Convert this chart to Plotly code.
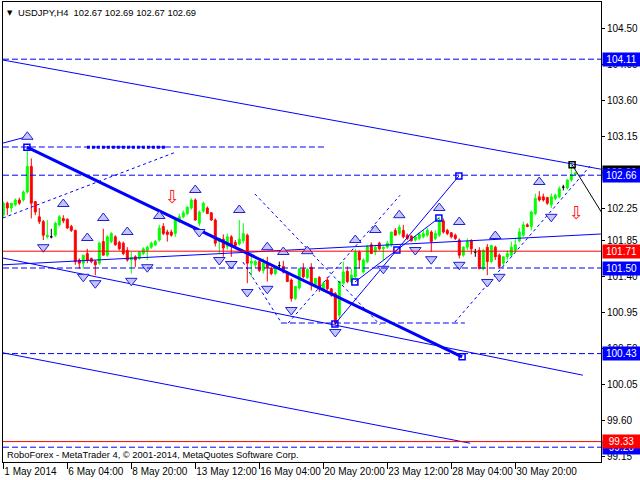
import plotly.graph_objects as go

# ---------------- data ----------------
opens = [102.16,102.31,102.25,102.29,102.35,102.35,102.45,102.77,102.33,102.14,
         102.08,101.89,101.89,101.91,102.04,102.12,102.11,102.02,101.97,101.60,
         101.56,101.68,101.62,101.58,101.56,101.83,101.66,101.83,101.89,101.82,
         101.81,101.72,101.60,101.64,101.62,101.68,101.72,101.76,101.79,101.85,
         102.02,101.95,101.95,101.93,102.08,102.14,102.18,102.25,102.35,102.06,
         102.21,102.25,102.19,102.10,101.83,101.86,101.77,101.89,101.82,101.80,
         101.84,101.91,101.56,101.54,101.58,101.47,101.55,101.50,101.43,101.53,
         101.52,101.45,101.35,101.12,101.25,101.49,101.38,101.51,101.29,101.38,
         101.23,101.35,101.24,101.18,100.91,101.31,101.46,101.33,101.39,101.70,
         101.45,101.58,101.79,101.70,101.81,101.74,101.76,101.79,101.97,101.93,
         101.97,101.91,101.90,101.85,101.87,101.89,101.91,101.95,101.87,101.91,
         102.09,101.97,101.94,101.91,101.85,101.66,101.76,101.84,101.70,101.72,
         101.49,101.76,101.58,101.76,101.66,101.56,101.64,101.66,101.72,101.84,
         101.91,102.04,102.02,102.18,102.39,102.39,102.38,102.29,102.37,102.39,
         102.51,102.50,102.60,102.67]
highs = [102.33,102.33,102.31,102.37,102.38,102.47,102.99,102.87,102.33,102.25,
         102.10,102.10,101.99,102.08,102.16,102.16,102.12,102.04,101.98,101.62,
         101.66,101.74,101.63,101.60,101.83,101.99,101.91,101.95,101.91,101.84,
         101.83,101.76,101.70,101.66,101.70,101.76,101.78,101.83,101.85,102.04,
         102.06,101.98,101.98,102.10,102.18,102.22,102.27,102.37,102.37,102.22,
         102.33,102.27,102.20,102.12,101.87,101.92,101.93,101.91,101.85,102.10,
         102.06,101.93,101.68,101.60,101.60,101.62,101.64,101.51,101.52,101.58,
         101.59,101.46,101.37,101.27,101.50,101.56,101.50,101.56,101.37,101.40,
         101.33,101.39,101.25,101.20,101.33,101.58,101.52,101.49,101.74,101.72,
         101.62,101.79,101.82,101.79,101.83,101.77,101.84,101.95,102.00,102.04,
         102.04,101.93,101.91,101.89,101.95,101.97,102.00,101.97,101.97,102.14,
         102.12,101.99,101.95,101.93,101.87,101.77,101.87,101.86,101.74,101.76,
         101.74,101.80,101.79,101.78,101.68,101.64,101.72,101.83,101.87,102.00,
         102.08,102.06,102.22,102.43,102.46,102.43,102.39,102.43,102.43,102.52,
         102.54,102.61,102.81,102.69]
lows = [102.14,102.16,102.20,102.27,102.29,102.33,102.43,102.12,102.16,102.05,
        101.85,101.87,101.87,101.89,102.02,102.06,101.99,101.95,101.54,101.49,
        101.49,101.56,101.56,101.41,101.54,101.66,101.64,101.81,101.78,101.72,
        101.66,101.58,101.43,101.51,101.60,101.66,101.60,101.74,101.77,101.83,
        101.91,101.83,101.89,101.89,102.06,102.12,102.16,102.23,102.09,102.02,
        102.19,102.18,102.09,101.77,101.68,101.64,101.73,101.64,101.76,101.78,
        101.81,101.31,101.39,101.50,101.45,101.43,101.33,101.41,101.41,101.49,
        101.43,101.33,101.08,101.10,101.23,101.37,101.36,101.22,101.27,101.20,
        101.21,101.22,101.14,100.79,100.87,101.29,101.31,101.31,101.37,101.49,
        101.43,101.56,101.68,101.66,101.72,101.60,101.74,101.76,101.91,101.91,
        101.87,101.85,101.83,101.83,101.85,101.87,101.89,101.70,101.85,101.89,
        101.93,101.91,101.87,101.85,101.62,101.64,101.72,101.67,101.64,101.49,
        101.47,101.41,101.56,101.60,101.50,101.52,101.60,101.64,101.70,101.82,
        101.89,102.01,101.97,102.16,102.33,102.33,102.29,102.25,102.35,102.37,
        102.47,102.48,102.58,102.66]
closes = [102.31,102.25,102.31,102.35,102.31,102.45,102.77,102.31,102.20,102.08,
          101.91,101.91,101.89,102.06,102.14,102.09,102.00,101.97,101.58,101.56,
          101.66,101.60,101.58,101.54,101.81,101.66,101.89,101.93,101.79,101.74,
          101.68,101.60,101.63,101.60,101.70,101.74,101.76,101.81,101.83,102.00,
          101.93,101.92,101.91,102.10,102.14,102.19,102.26,102.35,102.10,102.20,
          102.31,102.18,102.10,101.81,101.87,101.75,101.89,101.77,101.78,101.86,
          101.93,101.56,101.58,101.58,101.47,101.56,101.51,101.43,101.49,101.53,
          101.45,101.33,101.12,101.27,101.49,101.39,101.48,101.29,101.37,101.25,
          101.31,101.24,101.16,100.81,101.33,101.45,101.33,101.41,101.70,101.60,
          101.60,101.77,101.68,101.76,101.74,101.76,101.81,101.95,101.91,102.01,
          101.89,101.87,101.84,101.89,101.92,101.93,101.97,101.83,101.93,102.10,
          101.95,101.93,101.89,101.87,101.66,101.76,101.83,101.74,101.70,101.49,
          101.72,101.58,101.78,101.64,101.52,101.64,101.68,101.76,101.79,101.95,
          102.04,102.02,102.20,102.37,102.35,102.35,102.31,102.39,102.41,102.49,
          102.51,102.60,102.67,102.69]

x_tick_bars = [0, 16, 32, 48, 64, 80, 96, 112, 128]
x_tick_labels = ["1 May 2014", "6 May 04:00", "8 May 20:00", "13 May 12:00", "16 May 04:00",
                 "20 May 20:00", "23 May 12:00", "28 May 04:00", "30 May 20:00"]
y_tick_values = [104.50, 104.05, 103.60, 103.15, 102.70, 102.25, 101.85, 101.40,
                 100.95, 100.50, 100.05, 99.60, 99.15]

# horizontal levels
blue_levels = [104.11, 102.66, 101.50, 100.43, 99.26]
red_levels = [101.71, 99.33]
bid_price = 102.69

# trend lines: (bar0, price0, bar1, price1)
thin_lines = [(-0.1, 104.10, 149.4, 102.735),
              (-0.1, 100.44, 116.7, 99.31),
              (-0.1, 101.625, 144.9, 100.16),
              (-0.1, 101.54, 149.4, 101.925),
              (-0.2, 103.06, 5.85, 103.14),
              (82.9, 100.80, 113.9, 102.65),
              (87.9, 101.325, 108.9, 102.125)]
thick_line = (5.9, 103.01, 114.7, 100.39)
dotted_lines = [(-0.1, 102.125, 43.2, 102.95),
                (62.9, 102.425, 94.2, 100.79),
                (59.9, 101.575, 69.4, 100.825),
                (71.2, 100.81, 99.2, 102.41),
                (112.9, 100.825, 146.7, 102.775)]
dashed_segments = [(-0.1, 103.0125, 80.2, 103.0125),
                   (69.4, 100.8125, 115.4, 100.8125)]
thick_dotted = (20.9, 103.01, 40.9, 103.01)
black_line = (142.2, 102.79, 149.5, 102.20)
square_bars = [5.9, 114.7, 82.9, 87.9, 98.4, 108.9, 113.9]
square_prices = [103.01, 100.39, 100.80, 101.325, 101.725, 102.125, 102.65]
black_square = (142.2, 102.79)

up_bars = [6, 15, 21, 25, 31, 39, 48, 59, 66, 70, 76, 88, 93, 99, 109, 114, 123, 134]
up_prices = [103.14, 102.30, 101.875, 102.125, 101.95, 102.15, 102.475, 102.225, 101.76,
             101.70, 101.71, 101.85, 101.975, 102.16, 102.25, 102.075, 101.90, 102.575]
down_bars = [10, 20, 23, 32, 36, 49, 54, 57, 61, 66, 72, 83, 95, 103, 107, 114, 121, 124, 137]
down_prices = [101.76, 101.39, 101.31, 101.34, 101.51, 101.95, 101.60, 101.55, 101.20,
               101.24, 100.975, 100.70, 101.49, 101.725, 101.61, 101.54, 101.325, 101.39, 102.14]
red_arrow_bars = [42.4, 143.4]
red_arrow_prices = [102.39, 102.20]

title_text = "USDJPY,H4\u00a0\u00a0102.67 102.69 102.67 102.69"
footer_text = "RoboForex - MetaTrader 4, © 2001-2014, MetaQuotes Software Corp."

# ---------------- figure ----------------
FONT = "Liberation Sans, Arial, sans-serif"
BLUE = "#0000ff"
bars = list(range(len(opens)))
fig = go.Figure()

norm = [i for i in bars if opens[i] != closes[i]]
doji = [i for i in bars if opens[i] == closes[i]]
fig.add_trace(go.Candlestick(
    x=norm, open=[opens[i] for i in norm], high=[highs[i] for i in norm],
    low=[lows[i] for i in norm], close=[closes[i] for i in norm],
    increasing=dict(line=dict(color="#00ff00", width=1), fillcolor="#00ff00"),
    decreasing=dict(line=dict(color="#ff0000", width=1), fillcolor="#ff0000"),
    whiskerwidth=0, hoverinfo="skip"))
fig.add_trace(go.Candlestick(
    x=doji, open=[opens[i] for i in doji], high=[highs[i] for i in doji],
    low=[lows[i] for i in doji], close=[closes[i] for i in doji],
    increasing=dict(line=dict(color="#000000", width=1), fillcolor="#000000"),
    decreasing=dict(line=dict(color="#000000", width=1), fillcolor="#000000"),
    whiskerwidth=0, hoverinfo="skip"))

def seg(s, color=BLUE, width=1, dash="solid"):
    fig.add_trace(go.Scatter(x=[s[0], s[2]], y=[s[1], s[3]], mode="lines",
                             line=dict(color=color, width=width, dash=dash),
                             hoverinfo="skip"))

for s in thin_lines:
    seg(s)
for s in dotted_lines:
    seg(s, dash="3px,3px")
for s in dashed_segments:
    seg(s, dash="6px,3px")
seg(thick_dotted, width=3, dash="3px,2px")
seg(thick_line, width=3)
seg(black_line, color="#000000")

fig.add_trace(go.Scatter(x=square_bars, y=square_prices, mode="markers",
                         marker=dict(symbol="square-open", size=6, color=BLUE,
                                     line=dict(width=1.5)), hoverinfo="skip"))
fig.add_trace(go.Scatter(x=[black_square[0]], y=[black_square[1]], mode="markers",
                         marker=dict(symbol="square-open", size=6, color="#000000",
                                     line=dict(width=1.5)), hoverinfo="skip"))

fig.add_trace(go.Scatter(x=up_bars, y=up_prices, mode="markers",
                         marker=dict(symbol="triangle-up", size=10, color="#c4c4ff",
                                     line=dict(color="#2020d0", width=1)), hoverinfo="skip"))
fig.add_trace(go.Scatter(x=down_bars, y=down_prices, mode="markers",
                         marker=dict(symbol="triangle-down", size=10, color="#c4c4ff",
                                     line=dict(color="#2020d0", width=1)), hoverinfo="skip"))

shapes = []
for lv in blue_levels:
    shapes.append(dict(type="line", xref="paper", x0=0, x1=1, yref="y", y0=lv, y1=lv,
                       line=dict(color=BLUE, width=1, dash="6px,3px")))
for lv in red_levels:
    shapes.append(dict(type="line", xref="paper", x0=0, x1=1, yref="y", y0=lv, y1=lv,
                       line=dict(color="#ff0000", width=1)))

annotations = []
for b, p in zip(red_arrow_bars, red_arrow_prices):
    annotations.append(dict(x=b, y=p, xref="x", yref="y", text="⇩", showarrow=False,
                            font=dict(family="DejaVu Sans", size=18, color="#ff2020")))

def price_label(p, bg):
    annotations.append(dict(x=1, xref="paper", y=p, yref="y", xanchor="left", yanchor="middle",
                            xshift=1, text=f"{p:.2f}", showarrow=False, bgcolor=bg,
                            width=35, height=11, borderpad=1,
                            font=dict(family=FONT, size=10, color="#ffffff")))

price_label(bid_price, "#000000")
for lv in blue_levels:
    price_label(lv, BLUE)
for lv in red_levels:
    price_label(lv, "#ff0000")

annotations.append(dict(x=0, y=1, xref="paper", yref="paper", xanchor="left", yanchor="top",
                        xshift=2, yshift=-5, text="▼", showarrow=False,
                        font=dict(family="DejaVu Sans", size=7, color="#000000")))
annotations.append(dict(x=0, y=1, xref="paper", yref="paper", xanchor="left", yanchor="top",
                        xshift=13, yshift=-3, text=title_text, showarrow=False,
                        font=dict(family=FONT, size=9.4, color="#000000")))
annotations.append(dict(x=0, y=0, xref="paper", yref="paper", xanchor="left", yanchor="bottom",
                        xshift=2, yshift=0, text=footer_text, showarrow=False,
                        font=dict(family=FONT, size=9.4, color="#000000")))

fig.update_layout(
    width=640, height=480,
    margin=dict(l=3, r=39, t=2, b=18, autoexpand=False),
    plot_bgcolor="#ffffff", paper_bgcolor="#ffffff",
    showlegend=False,
    shapes=shapes, annotations=annotations,
    xaxis=dict(range=[-0.075, 149.425], rangeslider=dict(visible=False),
               automargin=False,
               showgrid=False, zeroline=False, showline=True, linecolor="#000000",
               linewidth=1, mirror=True, ticks="outside", ticklen=6, tickcolor="#000000",
               tickvals=x_tick_bars, ticktext=x_tick_labels, tickangle=0,
               ticklabelposition="outside right",
               tickfont=dict(family=FONT, size=10, color="#000000")),
    yaxis=dict(range=[99.075, 104.825], side="right", showgrid=False, zeroline=False,
               automargin=False,
               showline=True, linecolor="#000000", linewidth=1, mirror=True,
               ticks="outside", ticklen=3, tickcolor="#000000",
               tickvals=y_tick_values, ticktext=[f"{v:.2f}" for v in y_tick_values],
               tickfont=dict(family=FONT, size=10, color="#000000")),
)

fig.write_html("out.html", config={"displayModeBar": False},
               post_script="document.body.style.margin='0px';document.body.style.overflow='hidden';")
